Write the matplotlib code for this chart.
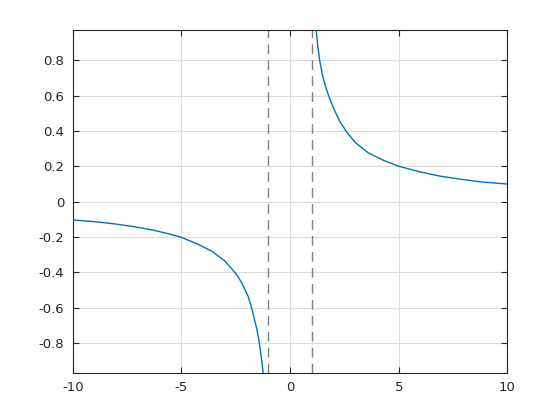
import numpy as np
from matplotlib import pyplot

pyplot.rcParams['axes.unicode_minus'] = False

# Curve, left branch (x < -1)
x_left = np.array([-9.98, -9.07, -8.15, -7.23, -6.31, -5.54, -5.00, -4.16, -3.60,
                   -3.00, -2.47, -2.24, -1.93, -1.77, -1.54, -1.42, -1.33, -1.24, -1.21])
y_left = np.array([-0.103, -0.112, -0.124, -0.140, -0.160, -0.183, -0.201, -0.245, -0.280,
                   -0.335, -0.410, -0.455, -0.535, -0.600, -0.715, -0.795, -0.870, -0.968, -1.02])
# Right branch (x > 1)
x_right = np.array([1.17, 1.20, 1.28, 1.36, 1.50, 1.65, 1.80, 2.05, 2.30, 2.60, 3.00,
                    3.59, 4.28, 4.97, 5.51, 5.97, 6.89, 7.82, 8.74, 10.0])
y_right = np.array([1.02, 0.972, 0.875, 0.800, 0.710, 0.645, 0.590, 0.515, 0.452, 0.395, 0.335,
                    0.277, 0.235, 0.202, 0.184, 0.169, 0.145, 0.128, 0.113, 0.100])
# Dashed asymptote positions
x_asym = [-1, 1]

xticks = [-10, -5, 0, 5, 10]
yticks = [-0.8, -0.6, -0.4, -0.2, 0, 0.2, 0.4, 0.6, 0.8]
yticklabels = ["-0.8", "-0.6", "-0.4", "-0.2", "0", "0.2", "0.4", "0.6", "0.8"]

fig = pyplot.figure(figsize=(5.6, 4.2), dpi=100)
ax = fig.add_axes([0.13, 0.112, 0.776, 0.817])

for xa in x_asym:
    ax.axvline(xa, color='#808080', lw=1.0, dashes=(7, 4.5), zorder=2)
ax.plot(x_left, y_left, color='#0072BD', lw=1.0, zorder=3)
ax.plot(x_right, y_right, color='#0072BD', lw=1.0, zorder=3)

ax.set_xlim(-10, 10)
ax.set_ylim(-0.968, 0.972)
ax.set_xticks(xticks)
ax.set_yticks(yticks)
ax.set_yticklabels(yticklabels)
ax.grid(True, color='#dcdcdc', lw=0.8, zorder=0)
ax.set_axisbelow(True)
ax.tick_params(direction='in', length=4, width=0.8, top=True, right=True,
               labelsize=9.5, colors='#262626', pad=6)
for s in ax.spines.values():
    s.set_color('#262626')
    s.set_linewidth(0.8)

pyplot.savefig("out.png", dpi=100)
